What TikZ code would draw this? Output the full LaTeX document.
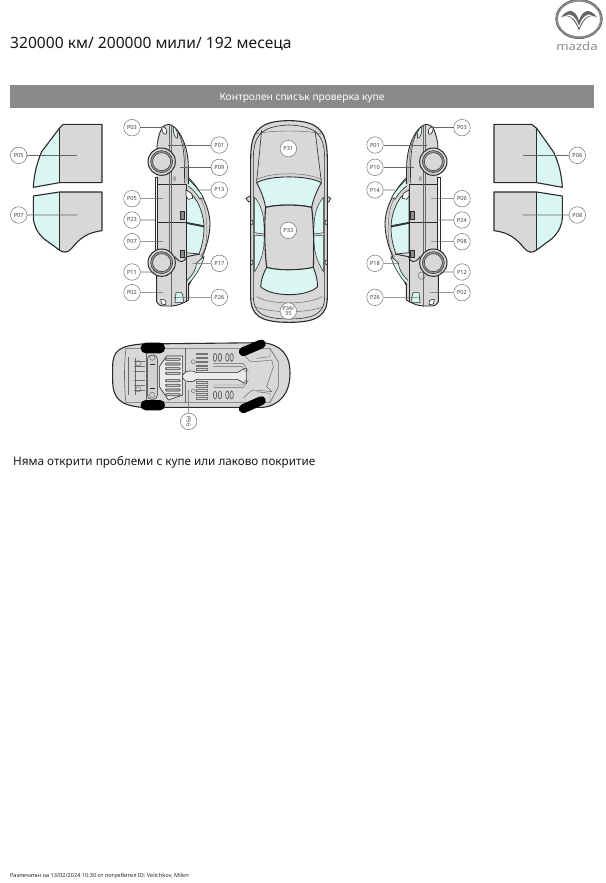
\documentclass[tikz,border=0pt]{standalone}
\usepackage{fontspec}
\setmainfont{Noto Sans}
\definecolor{bodyg}{HTML}{D8D8D8}
\definecolor{glass}{HTML}{DAF6F3}
\definecolor{linek}{HTML}{2A2A2A}
\definecolor{band}{HTML}{8A8A8A}
\tikzset{
 pc/.style={circle,draw=black!55,fill=white,line width=.5pt,minimum size=16.5pt,inner sep=0pt,font=\fontsize{5.6}{6}\selectfont\bfseries,text=black!75},
 lead/.style={draw=black!60,line width=.6pt},
 olin/.style={draw=linek,line width=.9pt,line join=round},
 thin1/.style={draw=black!60,line width=.45pt},
}
\newcommand\pcl[4]{\node[pc] (#1) at (#2) {#3}; \coordinate (#1e) at (#4); \draw[lead] (#1) -- (#1e);}
\newcommand\sidecar{%
 % greenhouse
 \fill[bodyg] (560,198) .. controls (590,225) and (628,280) .. (630,340) .. controls (630,400) and (600,460) .. (565,528) -- (550,528) -- (550,198) -- cycle;
 \draw[olin] (560,198) .. controls (590,225) and (628,280) .. (630,340) .. controls (630,400) and (600,460) .. (565,528);
 % glass
 \fill[glass,draw=linek,line width=.6pt] (562,205) .. controls (580,220) and (600,245) .. (610,262) -- (600,268) .. controls (590,250) and (575,235) .. (557,222) -- cycle;
 \fill[glass,draw=linek,line width=.7pt] (558,240) .. controls (580,250) and (608,290) .. (612,347) -- (558,337) -- cycle;
 \fill[glass,draw=linek,line width=.7pt] (558,340) -- (612,351) .. controls (612,385) and (605,410) .. (597,432) -- (558,428) -- cycle;
 \fill[glass,draw=linek,line width=.6pt] (612,440) .. controls (605,470) and (585,500) .. (565,522) -- (562,510) .. controls (580,495) and (590,470) .. (590,458) -- cycle;
 \draw[thin1] (600,262) .. controls (618,290) and (622,330) .. (620,380) .. controls (618,410) and (612,430) .. (600,440);
 % body
 \fill[bodyg] (470,575) -- (470,200) -- (472,100) .. controls (478,60) and (490,43) .. (505,43) .. controls (530,43) and (565,100) .. (565,170) -- (565,225) -- (558,235) -- (558,500) -- (566,520) -- (566,570) .. controls (550,580) and (530,588) .. (515,588) -- (490,588) .. controls (480,588) and (472,582) .. (470,575) -- cycle;
 \draw[olin] (472,100) .. controls (478,60) and (490,43) .. (505,43) .. controls (530,43) and (565,100) .. (565,170) -- (565,222);
 \draw[olin] (470,130) -- (472,100);
 \draw[olin] (465,202) -- (465,430);
 \draw[olin] (472,202) -- (472,430);
 \draw[olin] (465,202) -- (472,202);
 \draw[olin] (470,490) -- (470,575) .. controls (472,582) and (480,588) .. (490,588) -- (515,588) .. controls (530,588) and (550,580) .. (566,570) -- (566,520);
 \draw[olin] (558,222) -- (558,575);
 \draw[olin] (472,222) -- (558,222);
 \draw[olin] (472,338) -- (558,338);
 \draw[olin] (558,338) -- (612,350);
 \draw[thin1,line width=.8pt] (508,45) -- (508,470);
 \draw[thin1,line width=.8pt] (514,45) -- (514,590);
 \draw[olin] (525,440) .. controls (540,462) and (552,458) .. (560,440) -- (600,432);
 \draw[thin1] (540,70) .. controls (555,100) and (560,150) .. (558,220);
 \draw[olin,line width=.6pt] (535,68) .. controls (552,100) and (555,150) .. (553,220);
 % lamps
 \fill[glass,draw=linek,line width=.6pt] (520,50) .. controls (530,55) and (535,70) .. (532,85) .. controls (522,85) and (518,60) .. (520,50) -- cycle;
 \fill[white,draw=linek,line width=.6pt] (486,50) .. controls (497,50) and (502,60) .. (499,72) .. controls (490,76) and (484,62) .. (486,50) -- cycle;
 \fill[white,draw=linek,line width=.6pt] (482,568) .. controls (495,565) and (500,575) .. (497,584) -- (485,582) -- cycle;
 \fill[glass,draw=linek,line width=.6pt] (528,548) -- (545,548) .. controls (550,555) and (550,570) .. (550,578) -- (525,578) -- cycle;
 % handles, mirror
 \fill[black!45,draw=linek,line width=.4pt] (541,305) rectangle (553,328);
 \fill[black!45,draw=linek,line width=.4pt] (541,420) rectangle (553,443);
 \fill[black!35] (524,206) ellipse (5 and 8);
 \fill[white,draw=linek,line width=.6pt] (558,240) -- (575,250) -- (578,265) -- (565,268) -- (558,258) -- cycle;
 % wheels
 \foreach \wy in {155,458}{
  \fill[bodyg,draw=linek,line width=1pt] (485,\wy) circle (41);
  \fill[black!30!bodyg,draw=linek,line width=.5pt] (485,\wy) circle (33);
  \fill[bodyg,draw=linek,line width=.5pt] (485,\wy) circle (27);
 }
}
\begin{document}
\begin{tikzpicture}[x=1pt,y=-1pt]
\useasboundingbox (0,0) rectangle (605,883);
\fill[white] (0,0) rectangle (605,883);
% header
\node[anchor=west,inner sep=0pt,font=\fontsize{15.6}{18}\selectfont,text=black!90] (title) at (10,44) {320000 км/ 200000 мили/ 192 месеца};
\fill[band] (10,85) rectangle (594,108);
\node[inner sep=0pt,font=\fontsize{10.2}{12}\selectfont,text=white] (bandt) at (302,98) {Контролен списък проверка купе};
% logo
\begin{scope}[shift={(545,0)},xscale=1/3,yscale=1/3]
 \draw[black!45,line width=2pt] (102,57) ellipse (66 and 55);
 \draw[black!80,line width=.5pt] (102,57) ellipse (70 and 59);
 \fill[black!60] (48,52) .. controls (70,22) and (92,30) .. (102,62) .. controls (112,30) and (134,22) .. (156,52) .. controls (136,42) and (118,50) .. (102,92) .. controls (86,50) and (68,42) .. (48,52) -- cycle;
 \fill[white] (62,46) .. controls (78,38) and (92,50) .. (102,78) .. controls (112,50) and (126,38) .. (142,46) .. controls (125,46) and (112,58) .. (102,84) .. controls (92,58) and (79,46) .. (62,46) -- cycle;
\end{scope}
\node[inner sep=0pt,font=\fontsize{11}{11}\selectfont\bfseries,text=black!45,xscale=1.2] (logot) at (577,46) {mazda};
% doors left
\begin{scope}[shift={(0,110)},xscale=1/3,yscale=1/3]
 \fill[bodyg] (178,55) -- (190,43) -- (306,43) -- (306,218) -- (178,218) -- cycle;
 \fill[glass] (178,55) -- (125,125) .. controls (110,160) and (102,195) .. (100,232) -- (178,218) -- cycle;
 \draw[olin,line width=1.1pt] (306,43) -- (190,43) -- (178,55) -- (125,125) .. controls (110,160) and (102,195) .. (100,232) -- (178,218) -- (306,218) -- cycle;
 \draw[olin,line width=1.1pt] (178,55) -- (178,218);
 \fill[bodyg] (178,246) -- (306,246) -- (306,362) .. controls (260,368) and (240,385) .. (215,415) .. controls (205,428) and (190,430) .. (178,420) -- cycle;
 \fill[glass] (100,258) -- (178,246) -- (178,420) -- (130,385) .. controls (110,365) and (100,345) .. (100,320) -- cycle;
 \draw[olin,line width=1.1pt] (100,258) -- (178,246) -- (306,246) -- (306,362) .. controls (260,368) and (240,385) .. (215,415) .. controls (205,428) and (190,430) .. (178,420) -- (130,385) .. controls (110,365) and (100,345) .. (100,320) -- cycle;
 \draw[olin,line width=1.1pt] (178,246) -- (178,420);
 \pcl{pa05}{56,136}{P05}{232,136}
 \pcl{pa07}{56,315}{P07}{232,315}
\end{scope}
% doors right
\begin{scope}[shift={(355,110)},xscale=1/3,yscale=1/3]
 \fill[bodyg] (417,43) -- (530,43) -- (545,55) -- (545,218) -- (417,218) -- cycle;
 \fill[glass] (545,55) -- (595,125) .. controls (612,160) and (620,195) .. (622,232) -- (545,218) -- cycle;
 \draw[olin,line width=1.1pt] (417,43) -- (530,43) -- (545,55) -- (595,125) .. controls (612,160) and (620,195) .. (622,232) -- (545,218) -- (417,218) -- cycle;
 \draw[olin,line width=1.1pt] (545,55) -- (545,218);
 \fill[bodyg] (545,246) -- (417,246) -- (417,362) .. controls (463,368) and (483,385) .. (508,415) .. controls (518,428) and (533,430) .. (545,420) -- cycle;
 \fill[glass] (622,258) -- (545,246) -- (545,420) -- (592,385) .. controls (612,365) and (622,345) .. (622,320) -- cycle;
 \draw[olin,line width=1.1pt] (622,258) -- (545,246) -- (417,246) -- (417,362) .. controls (463,368) and (483,385) .. (508,415) .. controls (518,428) and (533,430) .. (545,420) -- (592,385) .. controls (612,365) and (622,345) .. (622,320) -- cycle;
 \draw[olin,line width=1.1pt] (545,246) -- (545,420);
 \pcl{pa06}{667,136}{P06}{503,136}
 \pcl{pa08}{667,315}{P08}{503,315}
\end{scope}
% left side car
\begin{scope}[shift={(0,110)},xscale=1/3,yscale=1/3]
 \sidecar
 \pcl{pb03}{396,53}{P03}{485,53}
 \pcl{pb01}{658,105}{P01}{505,105}
 \pcl{pb09}{658,172}{P09}{540,172}
 \pcl{pb13}{658,240}{P13}{590,240}
 \pcl{pb05}{396,266}{P05}{490,266}
 \pcl{pb23}{396,330}{P23}{465,330}
 \pcl{pb07}{396,395}{P07}{490,395}
 \pcl{pb11}{396,486}{P11}{470,486}
 \pcl{pb02}{396,548}{P02}{490,548}
 \pcl{pb17}{658,460}{P17}{578,460}
 \pcl{pb26}{658,562}{P26}{520,562}
\end{scope}
% right side car
\begin{scope}[shift={(595,110)},xscale=-1/3,yscale=1/3]
 \sidecar
 \draw[thin1] (520,497) circle (11);
\end{scope}
\begin{scope}[shift={(355,110)},xscale=1/3,yscale=1/3]
 \pcl{pc03}{321,53}{P03}{225,53}
 \pcl{pc01}{60,105}{P01}{215,105}
 \pcl{pc10}{60,172}{P10}{178,172}
 \pcl{pc14}{60,240}{P14}{120,240}
 \pcl{pc06}{321,266}{P06}{228,266}
 \pcl{pc24}{321,330}{P24}{252,330}
 \pcl{pc08}{321,395}{P08}{228,395}
 \pcl{pc12}{321,486}{P12}{250,486}
 \pcl{pc02}{321,548}{P02}{225,548}
 \pcl{pc18}{60,460}{P18}{130,460}
 \pcl{pc26}{60,562}{P26}{190,562}
\end{scope}
% top view
\begin{scope}[shift={(230,110)},xscale=1/3,yscale=1/3]
 % mirrors
 \fill[bodyg,draw=linek,line width=.8pt] (48,265) -- (78,248) -- (84,266) -- (56,276) -- cycle;
 \fill[bodyg,draw=linek,line width=.8pt] (302,265) -- (274,248) -- (270,266) -- (296,276) -- cycle;
 \path[fill=bodyg,draw=linek,line width=1.1pt] (62,150) .. controls (62,70) and (80,32) .. (177,32) .. controls (274,32) and (292,70) .. (292,150) -- (292,560) .. controls (292,615) and (265,637) .. (177,637) .. controls (89,637) and (62,615) .. (62,560) -- cycle;
 \draw[olin,line width=.6pt] (70,150) .. controls (70,85) and (85,48) .. (177,45) .. controls (269,48) and (284,85) .. (284,150) -- (284,560) .. controls (284,605) and (260,627) .. (177,627) .. controls (94,627) and (70,605) .. (70,560) -- cycle;
 \draw[thin1] (78,72) .. controls (120,60) and (234,60) .. (276,72);
 \draw[olin,line width=.6pt] (95,60) -- (80,215);
 \draw[olin,line width=.6pt] (255,60) -- (274,215);
 \draw[thin1] (78,210) .. controls (120,185) and (234,185) .. (276,210);
 % side glass
 \fill[glass,draw=linek,line width=.5pt] (74,262) .. controls (92,285) and (104,310) .. (102,372) -- (73,368) -- cycle;
 \fill[glass,draw=linek,line width=.5pt] (73,375) -- (102,378) .. controls (104,420) and (95,450) .. (74,485) -- cycle;
 \fill[glass,draw=linek,line width=.5pt] (280,262) .. controls (262,285) and (250,310) .. (252,372) -- (281,368) -- cycle;
 \fill[glass,draw=linek,line width=.5pt] (281,375) -- (252,378) .. controls (250,420) and (259,450) .. (280,485) -- cycle;
 % windshield
 \fill[glass,draw=linek,line width=.9pt] (80,218) .. controls (120,195) and (234,195) .. (274,218) .. controls (262,240) and (250,265) .. (245,292) .. controls (210,283) and (140,283) .. (107,292) .. controls (102,265) and (92,240) .. (80,218) -- cycle;
 % roof
 \fill[bodyg,draw=linek,line width=1.1pt] (107,292) .. controls (140,283) and (210,283) .. (245,292) .. controls (252,350) and (252,420) .. (250,472) .. controls (210,482) and (140,482) .. (110,472) .. controls (104,420) and (102,350) .. (107,292) -- cycle;
 % rear glass
 \fill[glass,draw=linek,line width=.9pt] (110,472) .. controls (140,482) and (210,482) .. (250,472) .. controls (258,490) and (262,510) .. (263,530) .. controls (230,562) and (125,562) .. (92,530) .. controls (93,510) and (100,490) .. (110,472) -- cycle;
 \draw[thin1] (80,560) .. controls (120,585) and (234,585) .. (276,560);
 \draw[thin1] (75,590) .. controls (120,610) and (234,610) .. (280,590);
 \draw[olin,line width=.6pt] (62,330) .. controls (72,328) and (72,345) .. (62,345);
 \draw[olin,line width=.6pt] (292,330) .. controls (282,328) and (282,345) .. (292,345);
 \draw[olin,line width=.6pt] (62,450) .. controls (72,448) and (72,465) .. (62,465);
 \draw[olin,line width=.6pt] (292,450) .. controls (282,448) and (282,465) .. (292,465);
 \node[pc] (pd31) at (175,116) {P31};
 \node[pc] (pd33) at (175,361) {P33};
 \node[pc,align=center,font=\fontsize{5.6}{5.6}\selectfont\bfseries] (pd34) at (175,603) {P34/\\35};
\end{scope}
% underside
\begin{scope}[shift={(100,330)},xscale=1/3,yscale=1/3]
 \fill[bodyg,draw=linek,line width=1.1pt] (38,110) .. controls (38,60) and (60,48) .. (125,42) -- (490,38) .. controls (540,45) and (570,70) .. (570,130) .. controls (570,190) and (540,225) .. (490,232) -- (125,232) .. controls (60,226) and (38,205) .. (38,150) -- cycle;
 \draw[thin1,line width=.6pt] (78,55) -- (510,55) -- (535,95) -- (535,170) -- (510,218) -- (78,218) .. controls (72,170) and (72,100) .. (78,55) -- cycle;
 \draw[thin1] (85,80) -- (85,195);
 \draw[thin1] (140,55) -- (140,218);
 \draw[thin1] (255,55) -- (255,125);
 \draw[thin1] (255,155) -- (255,218);
 \draw[thin1] (510,55) -- (510,80) -- (470,85);
 \draw[thin1] (510,218) -- (510,190) -- (470,185);
 % front crossmember
 \fill[black!18,draw=linek,line width=.5pt,rounded corners=4pt] (142,75) rectangle (172,208);
 \draw[thin1] (157,83) circle (8); \draw[thin1] (157,195) circle (8);
 \draw[linek,line width=.7pt] (150,103) -- (165,103); \draw[linek,line width=.7pt] (150,175) -- (165,175);
 % engine shield
 \fill[black!8,draw=linek,line width=.6pt] (178,110) -- (200,78) -- (248,78) -- (248,195) -- (205,210) -- (178,170) -- cycle;
 \foreach \yy in {88,102,116,130,152,166,180,194}{
  \draw[black!55,line width=1.1pt,rounded corners=1pt,fill=black!15] (197,\yy-3) rectangle (240,\yy+3);}
 % rear engine bay detail
 \foreach \yy in {93,108,125,150,165,180}{\draw[black!55,line width=.8pt] (103,\yy) -- (135,\yy);}
 \draw[thin1] (115,100) circle (8); \draw[thin1] (115,178) circle (8);
 \draw[thin1] (105,85) -- (105,195);
 % centre slots
 \foreach \yy in {72,84,96,108,118,158,170,182,194,206}{
  \draw[black!55,line width=.7pt,fill=black!15] (290,\yy-2.5) rectangle (322,\yy+2.5);}
 \draw[thin1] (280,95) circle (6); \draw[thin1] (280,183) circle (6);
 % tunnel
 \fill[black!8,draw=linek,line width=.6pt] (248,135) .. controls (255,120) and (280,120) .. (290,128) -- (410,128) .. controls (420,125) and (430,115) .. (440,115) -- (440,160) .. controls (430,160) and (420,150) .. (410,148) -- (290,148) .. controls (280,158) and (255,158) .. (248,145) -- cycle;
 % exhaust / rear axle
 \foreach \xx in {345,360,382,395}{
  \draw[black!65,line width=.7pt] (\xx,82) ellipse (5 and 12);
  \draw[black!65,line width=.7pt] (\xx,195) ellipse (5 and 12);}
 \draw[thin1] (340,100) -- (430,100) -- (445,125);
 \draw[thin1] (340,110) -- (425,110) -- (440,128);
 \draw[thin1] (340,172) -- (430,172) -- (445,150);
 \draw[thin1] (340,165) -- (425,165) -- (440,148);
 \draw[thin1] (430,70) .. controls (440,85) and (450,100) .. (465,95) -- (515,90) -- (520,110) -- (500,170) -- (515,185) -- (465,180) .. controls (450,180) and (440,195) .. (430,205);
 % tyres
 \fill[black,rounded corners=5pt] (122,38) rectangle (195,70);
 \fill[black,rounded corners=5pt] (122,210) rectangle (195,241);
 \draw[black,line width=9pt,line cap=round] (430,65) -- (484,42);
 \draw[black,line width=9pt,line cap=round] (430,236) -- (484,212);
 \node[pc,rotate=-90] (pe96) at (266,274) {P96};
 \coordinate (pe96e) at (266,180);
 \draw[lead] (pe96) -- (pe96e);
\end{scope}
% texts
\node[anchor=west,inner sep=0pt,font=\fontsize{11.7}{14}\selectfont,text=black!90] (msg) at (13,462) {Няма открити проблеми с купе или лаково покритие};
\node[anchor=west,inner sep=0pt,font=\fontsize{5.6}{7}\selectfont,text=black!85] (foot) at (10,876) {Разпечатан на 13/02/2024 10:30 от потребител ID: Velichkov, Milen};
\end{tikzpicture}
\end{document}
